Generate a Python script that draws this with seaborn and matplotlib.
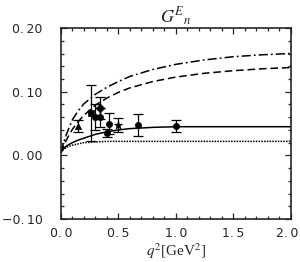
import matplotlib
matplotlib.use("Agg")
import matplotlib.pyplot as plt
import matplotlib.transforms as mtrans
import seaborn as sns
import pandas as pd
from matplotlib.ticker import MultipleLocator, FuncFormatter

# theory curves
q_curve = [0, 0.02, 0.05, 0.1, 0.15, 0.2, 0.3, 0.4, 0.5, 0.6, 0.8, 1.0, 1.25, 1.5, 1.75, 2.0]
g_dashdot = [0.004, 0.018, 0.034, 0.056, 0.070, 0.081, 0.096, 0.107, 0.116, 0.124, 0.135, 0.143, 0.150, 0.155, 0.158, 0.160]
g_dashed = [0.004, 0.013, 0.025, 0.041, 0.053, 0.063, 0.079, 0.090, 0.099, 0.106, 0.116, 0.123, 0.129, 0.133, 0.136, 0.138]
g_solid = [0.004, 0.010, 0.015, 0.020, 0.024, 0.027, 0.033, 0.037, 0.040, 0.042, 0.044, 0.045, 0.045, 0.045, 0.045, 0.045]
g_dotted = [0.004, 0.009, 0.013, 0.016, 0.018, 0.020, 0.021, 0.022, 0.022, 0.022, 0.022, 0.022, 0.022, 0.022, 0.022, 0.022]

# experimental points
q_data = [0.15, 0.26, 0.30, 0.34, 0.34, 0.40, 0.42, 0.50, 0.67, 1.00]
g_data = [0.046, 0.067, 0.060, 0.074, 0.060, 0.035, 0.050, 0.047, 0.048, 0.046]
g_err = [0.009, 0.044, 0.020, 0.017, 0.015, 0.006, 0.017, 0.011, 0.017, 0.010]
marks = ["^", "s", "o", "D", "o", "o", "o", "*", "o", "o"]

sns.set_style("ticks")
plt.rcParams["font.family"] = ["DejaVu Sans"]
plt.rcParams["mathtext.fontset"] = "stix"

fig = plt.figure(figsize=(3.0, 2.62), dpi=100)
ax = fig.add_axes([0.203, 0.164, 0.767, 0.729])

curves = pd.DataFrame({"q": q_curve, "dd": g_dashdot, "da": g_dashed,
                       "so": g_solid, "do": g_dotted})
sns.lineplot(data=curves, x="q", y="dd", ax=ax, color="black", lw=1.1,
             estimator=None).lines[-1].set_dashes((6, 2, 1.2, 2))
sns.lineplot(data=curves, x="q", y="da", ax=ax, color="black", lw=1.1,
             estimator=None).lines[-1].set_dashes((5, 2.5))
sns.lineplot(data=curves, x="q", y="so", ax=ax, color="black", lw=1.1, estimator=None)
sns.lineplot(data=curves, x="q", y="do", ax=ax, color="black", lw=1.1,
             estimator=None).lines[-1].set_dashes((1, 0.8))

pts = pd.DataFrame({"q": q_data, "g": g_data, "e": g_err, "m": marks})
for _, r in pts.iterrows():
    ax.errorbar(r["q"], r["g"], yerr=r["e"], fmt="none", ecolor="black",
                elinewidth=0.9, capsize=3.5, capthick=0.9)
    sns.scatterplot(x=[r["q"]], y=[r["g"]], ax=ax, color="black",
                    marker=r["m"], s=20 if r["m"] != "*" else 36, edgecolor="black", linewidth=0.5)

sp = "\u2009"
ax.set_xlim(0, 2.0)
ax.set_ylim(-0.10, 0.20)
ax.xaxis.set_major_locator(MultipleLocator(0.5))
ax.xaxis.set_minor_locator(MultipleLocator(0.1))
ax.yaxis.set_major_locator(MultipleLocator(0.1))
ax.yaxis.set_minor_locator(MultipleLocator(0.02))
ax.xaxis.set_major_formatter(FuncFormatter(lambda v, p: f"{v:.1f}".replace(".", "." + sp)))
ax.yaxis.set_major_formatter(FuncFormatter(
    lambda v, p: (f"{v:.2f}".replace(".", "." + sp).replace("-", "\u2212") if abs(v) > 1e-9 else "0." + sp + "00")))
ax.tick_params(which="both", direction="in", top=True, right=True, width=0.9)
ax.tick_params(which="major", length=4, labelsize=9)
ax.tick_params(axis="y", which="major", pad=13)
ax.tick_params(axis="x", which="major", pad=6)
ax.tick_params(which="minor", length=2.2)
for s in ax.spines.values():
    s.set_linewidth(1.2)

ax.set_xlabel("$q^2$[GeV$^2$]", fontsize=11, family="Liberation Serif", labelpad=1)
ax.set_ylabel("")
ax.set_title("$G^{E}{}_{n}$", fontsize=13, pad=3)

# nudge the last x label so it stays inside the figure
fig.canvas.draw()
last = ax.xaxis.get_major_ticks()[-1].label1
for t in ax.xaxis.get_major_ticks():
    if abs(t.get_loc() - 2.0) < 1e-9:
        last = t.label1
last.set_transform(last.get_transform() + mtrans.ScaledTranslation(-3 / 72, 0, fig.dpi_scale_trans))

fig.savefig("out.png", dpi=100)
